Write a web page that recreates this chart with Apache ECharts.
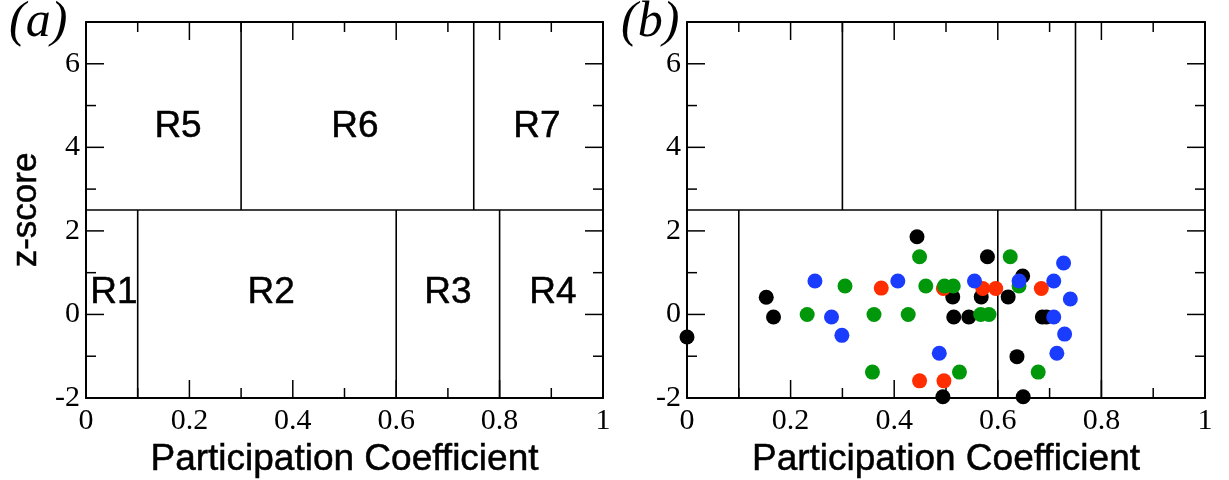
<!DOCTYPE html>
<html>
<head>
<meta charset="utf-8">
<script src="https://cdn.jsdelivr.net/npm/echarts@6/dist/echarts.min.js"></script>
<style>html,body{margin:0;padding:0;background:#fff}#c{width:1229px;height:480px}</style>
</head>
<body>
<div id="c"></div>
<script>
// ---- data ----
const xTicks = [0, 0.2, 0.4, 0.6, 0.8, 1];
const xMinorTicks = [0.1, 0.3, 0.5, 0.7, 0.9];
const yTicks = [-2, 0, 2, 4, 6];
const yMinorTicks = [-1, 1, 3, 5];
const zSplit = 2.5;                 // horizontal boundary between hub / non-hub
const upperSplits = [0.3, 0.75];    // R5|R6|R7
const lowerSplits = [0.1, 0.6, 0.8];// R1|R2|R3|R4
const regionNames = ['R1', 'R2', 'R3', 'R4', 'R5', 'R6', 'R7'];
const regionX = [0.054, 0.358, 0.70, 0.903, 0.178, 0.52, 0.872];
const regionY = [0.53, 0.53, 0.53, 0.53, 4.5, 4.5, 4.5];

const blackPts = [[0.444,1.86],[0.153,0.41],[0.167,-0.06],[0.0,-0.54],[0.513,0.42],[0.515,-0.06],[0.544,-0.06],[0.58,1.38],[0.568,0.42],[0.62,0.42],[0.648,0.92],[0.686,-0.06],[0.694,-0.06],[0.637,-1.01],[0.494,-1.97],[0.649,-1.97]];
const redPts = [[0.375,0.63],[0.495,0.62],[0.571,0.62],[0.596,0.62],[0.684,0.62],[0.449,-1.59],[0.496,-1.59]];
const greenPts = [[0.449,1.38],[0.305,0.68],[0.461,0.68],[0.497,0.68],[0.514,0.68],[0.232,0.0],[0.361,0.0],[0.427,0.0],[0.567,0.0],[0.583,0.0],[0.624,1.38],[0.641,0.68],[0.358,-1.38],[0.526,-1.38],[0.678,-1.38]];
const bluePts = [[0.247,0.80],[0.407,0.80],[0.279,-0.06],[0.299,-0.50],[0.487,-0.93],[0.555,0.80],[0.641,0.80],[0.708,0.80],[0.727,1.23],[0.74,0.37],[0.708,-0.06],[0.729,-0.47],[0.714,-0.93]];

// ---- chart ----
const X_MIN = 0, X_MAX = 1, Y_MIN = -2, Y_MAX = 7;
const SERIF = 'Liberation Serif', SANS = 'Liberation Sans';
const grids = [
  {left: 86, top: 22, width: 517, height: 376, containLabel: false, outerBoundsMode: 'none'},
  {left: 687, top: 22, width: 518, height: 376, containLabel: false, outerBoundsMode: 'none'}
];
function mkLine() { return {show: true, onZero: false, lineStyle: {color: '#000', width: 2}}; }
const PER_GRID = 2;
const xAxes = [], yAxes = [];
grids.forEach((g, gi) => {
  xAxes.push({
    type: 'value', gridIndex: gi, position: 'bottom', min: X_MIN, max: X_MAX, interval: 0.2,
    axisLine: mkLine(), axisTick: {show: false}, splitLine: {show: false},
    axisLabel: {show: true, color: '#000', fontFamily: SERIF, fontSize: 30, margin: 8,
      formatter: v => xTicks.indexOf(+v.toFixed(2)) >= 0 ? String(+v.toFixed(2)) : ''},
    name: 'Participation Coefficient', nameLocation: 'middle', nameGap: 42,
    nameTextStyle: {color: '#000', fontFamily: SANS, fontSize: 37, textBorderColor: '#000', textBorderWidth: 0.5}
  });
  xAxes.push({
    type: 'value', gridIndex: gi, position: 'top', min: X_MIN, max: X_MAX, interval: 0.2,
    axisLine: mkLine(), axisTick: {show: false}, splitLine: {show: false}, axisLabel: {show: false}
  });
  const yLab = {
    type: 'value', gridIndex: gi, position: 'left', min: Y_MIN, max: Y_MAX, interval: 2,
    axisLine: mkLine(), axisTick: {show: false}, splitLine: {show: false},
    axisLabel: {show: true, showMaxLabel: false, color: '#000', fontFamily: SERIF, fontSize: 30, margin: 6,
      formatter: v => yTicks.indexOf(v) >= 0 ? String(v) : ''}
  };
  if (gi === 0) {
    yLab.name = 'z-score';
    yLab.nameLocation = 'middle';
    yLab.nameGap = 42;
    yLab.nameRotate = 90;
    yLab.nameTextStyle = {color: '#000', fontFamily: SANS, fontSize: 35, textBorderColor: '#000', textBorderWidth: 0.5};
  }
  yAxes.push(yLab);
  yAxes.push({
    type: 'value', gridIndex: gi, position: 'right', min: Y_MIN, max: Y_MAX, interval: 2,
    axisLine: mkLine(), axisTick: {show: false}, splitLine: {show: false}, axisLabel: {show: false}
  });
});

const series = [];
function seg(gi, a, b) {
  series.push({
    type: 'line', xAxisIndex: gi * PER_GRID, yAxisIndex: gi * PER_GRID, data: [a, b],
    symbol: 'none', silent: true, z: 1,
    lineStyle: {color: '#000', width: 1.6}
  });
}
grids.forEach((g, gi) => {
  seg(gi, [X_MIN, zSplit], [X_MAX, zSplit]);
  upperSplits.forEach(x => seg(gi, [x, zSplit], [x, Y_MAX]));
  lowerSplits.forEach(x => seg(gi, [x, Y_MIN], [x, zSplit]));
});

series.push({
  type: 'scatter', xAxisIndex: 0, yAxisIndex: 0, symbolSize: 1, silent: true,
  itemStyle: {opacity: 0},
  label: {show: true, position: 'inside', color: '#000', opacity: 1, fontFamily: SANS, fontSize: 37,
    textBorderColor: '#000', textBorderWidth: 0.5, formatter: p => p.name},
  data: regionNames.map((n, i) => ({name: n, value: [regionX[i], regionY[i]]}))
});

const groups = [[blackPts, '#000000'], [redPts, '#ff2d00'], [greenPts, '#00980a'], [bluePts, '#1a3cff']];
groups.forEach(([pts, col], i) => {
  series.push({
    type: 'scatter', xAxisIndex: PER_GRID, yAxisIndex: PER_GRID, symbol: 'circle', symbolSize: 15, clip: false,
    z: 3 + i, itemStyle: {color: col, opacity: 1}, data: pts
  });
});

const chart = echarts.init(document.getElementById('c'), null, {renderer: 'canvas'});
chart.setOption({
  animation: false,
  backgroundColor: '#fff',
  title: [
    {text: '(a)', left: 9, top: -2, padding: 0, textStyle: {fontFamily: SERIF, fontStyle: 'italic', fontWeight: 'normal', fontSize: 50, color: '#000'}},
    {text: '(b)', left: 621, top: -2, padding: 0, textStyle: {fontFamily: SERIF, fontStyle: 'italic', fontWeight: 'normal', fontSize: 50, color: '#000'}}
  ],
  grid: grids,
  xAxis: xAxes,
  yAxis: yAxes,
  series: series
});

// inward ticks on all four sides, placed through the chart's own axis scales
try {
  const MAJOR = 18, MINOR = 10;
  const tickEls = [];
  const addTick = (x1, y1, x2, y2) => tickEls.push({
    type: 'line', silent: true, z: 10,
    shape: {x1: x1, y1: y1, x2: x2, y2: y2},
    style: {stroke: '#000', lineWidth: 1.5}
  });
  grids.forEach((g, gi) => {
    const finder = {gridIndex: gi};
    [[xTicks, MAJOR], [xMinorTicks, MINOR]].forEach(([vals, len]) => vals.forEach(v => {
      const b = chart.convertToPixel(finder, [v, Y_MIN]);
      const t = chart.convertToPixel(finder, [v, Y_MAX]);
      if (b) addTick(b[0], b[1], b[0], b[1] - len);
      if (t) addTick(t[0], t[1], t[0], t[1] + len);
    }));
    [[yTicks, MAJOR], [yMinorTicks, MINOR]].forEach(([vals, len]) => vals.forEach(v => {
      const l = chart.convertToPixel(finder, [X_MIN, v]);
      const r = chart.convertToPixel(finder, [X_MAX, v]);
      if (l) addTick(l[0], l[1], l[0] + len, l[1]);
      if (r) addTick(r[0], r[1], r[0] - len, r[1]);
    }));
  });
  chart.setOption({graphic: tickEls});
} catch (e) { /* keep the chart even if ticks fail */ }
</script>
</body>
</html>
